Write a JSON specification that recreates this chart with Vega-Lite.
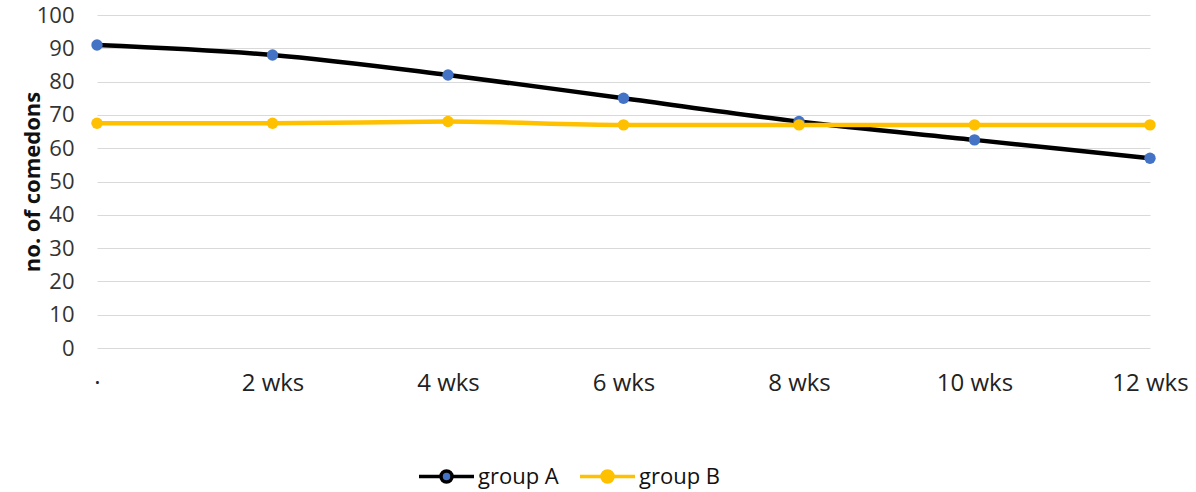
{
  "$schema": "https://vega.github.io/schema/vega-lite/v6.json",
  "width": 1053,
  "height": 333,
  "autosize": "none",
  "padding": {"left": 97, "top": 15, "right": 46, "bottom": 144},
  "background": "white",
  "config": {
    "view": {"stroke": null},
    "font": "Open Sans"
  },
  "data": {
    "values": [
      {"week": "·", "order": 0, "group": "group A", "comedons": 91},
      {"week": "2 wks", "order": 1, "group": "group A", "comedons": 88},
      {"week": "4 wks", "order": 2, "group": "group A", "comedons": 82},
      {"week": "6 wks", "order": 3, "group": "group A", "comedons": 75},
      {"week": "8 wks", "order": 4, "group": "group A", "comedons": 68},
      {"week": "10 wks", "order": 5, "group": "group A", "comedons": 62.5},
      {"week": "12 wks", "order": 6, "group": "group A", "comedons": 57},
      {"week": "·", "order": 0, "group": "group B", "comedons": 67.5},
      {"week": "2 wks", "order": 1, "group": "group B", "comedons": 67.5},
      {"week": "4 wks", "order": 2, "group": "group B", "comedons": 68},
      {"week": "6 wks", "order": 3, "group": "group B", "comedons": 67},
      {"week": "8 wks", "order": 4, "group": "group B", "comedons": 67},
      {"week": "10 wks", "order": 5, "group": "group B", "comedons": 67},
      {"week": "12 wks", "order": 6, "group": "group B", "comedons": 67}
    ]
  },
  "encoding": {
    "x": {
      "field": "week",
      "type": "ordinal",
      "sort": {"field": "order"},
      "scale": {"type": "point", "padding": 0},
      "axis": {
        "title": null,
        "labelAngle": 0,
        "domain": false,
        "ticks": false,
        "grid": false,
        "labelFontSize": 24,
        "labelColor": "#222222",
        "labelPadding": 23
      }
    },
    "y": {
      "field": "comedons",
      "type": "quantitative",
      "scale": {"domain": [0, 100], "nice": false},
      "axis": {
        "title": "no. of comedons",
        "titleFontSize": 22,
        "titleFontWeight": "bold",
        "titleColor": "#111111",
        "titlePadding": -8,
        "values": [0, 10, 20, 30, 40, 50, 60, 70, 80, 90, 100],
        "labelFontSize": 22,
        "labelColor": "#333333",
        "labelPadding": 23,
        "domain": false,
        "ticks": false,
        "gridColor": "#d9d9d9",
        "gridWidth": 1
      }
    }
  },
  "layer": [
    {
      "mark": {"type": "line", "strokeWidth": 4.5, "interpolate": "monotone"},
      "encoding": {
        "stroke": {
          "field": "group",
          "type": "nominal",
          "scale": {"domain": ["group A", "group B"], "range": ["#000000", "#FFC000"]},
          "legend": {
            "title": null,
            "orient": "none",
            "direction": "horizontal",
            "legendX": 320,
            "legendY": 432,
            "symbolType": "M-1,0H-0.2M0.2,0H1M-0.2,0A0.2,0.2 0 1,0 0.2,0A0.2,0.2 0 1,0 -0.2,0Z",
            "symbolSize": 3025,
            "symbolStrokeWidth": 3.5,
            "labelFontSize": 22,
            "labelColor": "#111111",
            "labelOffset": 2,
            "columnPadding": 14
          }
        }
      }
    },
    {
      "mark": {"type": "point", "filled": true, "size": 130, "opacity": 1},
      "encoding": {
        "fill": {
          "field": "group",
          "type": "nominal",
          "scale": {"domain": ["group A", "group B"], "range": ["#4472C4", "#FFC000"]},
          "legend": {
            "title": null,
            "orient": "none",
            "direction": "horizontal",
            "legendX": 320,
            "legendY": 432,
            "symbolType": "M-1,0H-0.2M0.2,0H1M-0.2,0A0.2,0.2 0 1,0 0.2,0A0.2,0.2 0 1,0 -0.2,0Z",
            "symbolSize": 3025,
            "symbolStrokeWidth": 3.5,
            "labelFontSize": 22,
            "labelColor": "#111111",
            "labelOffset": 2,
            "columnPadding": 14
          }
        }
      }
    }
  ]
}
